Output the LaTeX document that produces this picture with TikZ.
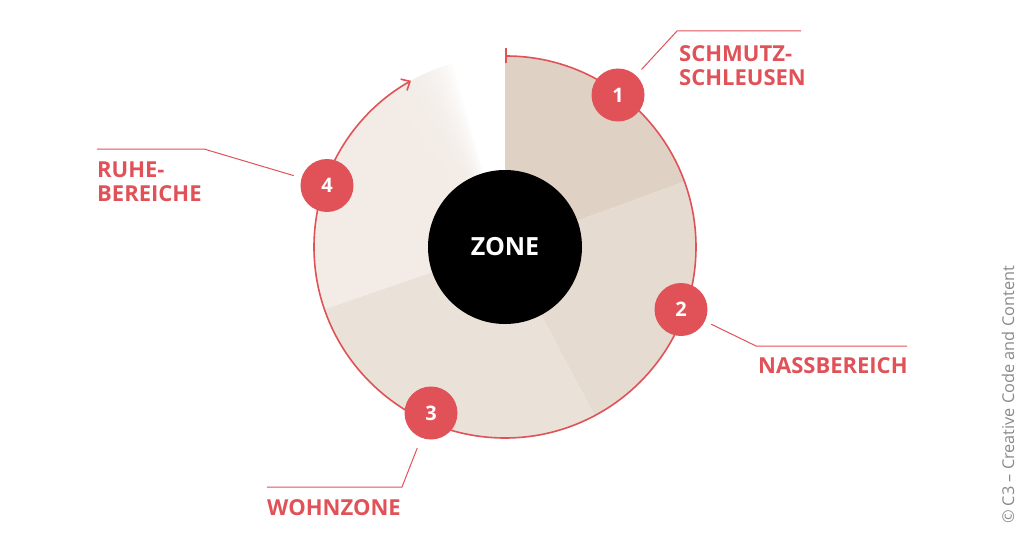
\documentclass[tikz,border=0pt]{standalone}
\usepackage{fontspec}
\setmainfont{Open Sans}
\usetikzlibrary{arrows.meta}
\definecolor{zred}{RGB}{224,82,88}
\definecolor{sone}{RGB}{223,210,196}
\definecolor{stwo}{RGB}{229,219,209}
\definecolor{sthree}{RGB}{234,225,216}
\definecolor{sfour}{RGB}{242,235,230}
\definecolor{cgray}{RGB}{138,138,138}

\begin{document}
\begin{tikzpicture}[x=1pt, y=1pt,
        badge/.style={circle, fill=zred, minimum size=53pt, inner sep=0pt, text=white, font=\bfseries\fontsize{20}{20}\selectfont},
        zlabel/.style={text=zred, inner sep=0pt, align=left, font=\bfseries\fontsize{22}{23.5}\selectfont},
        leader/.style={zred, line width=1pt}]
        \useasboundingbox ( -505, -302 ) rectangle ( 519, 247 );

        % sectors
        \fill [sone] ( 0, 0 ) -- ( 90:191 ) arc ( 90:20:191 ) -- cycle;
        \fill [stwo] ( 0, 0 ) -- ( 20:191 ) arc ( 20:-62:191 ) -- cycle;
        \fill [sthree] ( 0, 0 ) -- ( -62:191 ) arc ( -62:-161:191 ) -- cycle;
        \fill [sfour] ( 0, 0 ) -- ( 199:191 ) arc ( 199:128:191 ) -- cycle;
        % fade of sector 4
        \foreach \a in {1,...,22}
            \fill [sfour, fill opacity=0.14] ( 0, 0 ) -- ( 128.5:191 ) arc ( 128.5:128-\a:191 ) -- cycle;

        % ring
        \draw [zred, line width=1.6pt, {Bar[width=15pt]}-{Straight Barb[length=7pt, width=13pt]}] ( 90:191 ) arc ( 90:-240.5:191 );

        % zone
        \node [circle, fill=black, minimum size=154pt, inner sep=0pt, text=white, font=\bfseries\fontsize{25}{25}\selectfont] (zone) at ( 0, 0 ) {ZONE};

        % badges
        \node [badge] (b1) at ( 113, 152 ) {1};
        \node [badge] (b2) at ( 176, -62.5 ) {2};
        \node [badge] (b3) at ( -74, -166 ) {3};
        \node [badge] (b4) at ( -178, 61.5 ) {4};

        % leaders
        \coordinate (k1) at ( 172, 216 );
        \coordinate (e1) at ( 296, 216 );
        \coordinate (k2) at ( 251, -99 );
        \coordinate (e2) at ( 402, -99 );
        \coordinate (k3) at ( -103, -240 );
        \coordinate (e3) at ( -238, -240 );
        \coordinate (k4) at ( -301, 98 );
        \coordinate (e4) at ( -408, 98 );
        \draw [leader, shorten <=8pt] (b1) -- (k1) -- (e1);
        \draw [leader, shorten <=7pt] (b2) -- (k2) -- (e2);
        \draw [leader, shorten <=11pt] (b3) -- (k3) -- (e3);
        \draw [leader, shorten <=8pt] (b4) -- (k4) -- (e4);

        % labels
        \node [zlabel, anchor=north west] (l1) at ( 174, 201.5 ) {SCHMUTZ-\\SCHLEUSEN};
        \node [zlabel, anchor=base west] (l2) at ( 253, -126 ) {NASSBEREICH};
        \node [zlabel, anchor=base west] (l3) at ( -238, -268 ) {WOHNZONE};
        \node [zlabel, anchor=north west] (l4) at ( -408, 85 ) {RUHE-\\BEREICHE};

        % copyright
        \node [rotate=90, text=cgray, font=\fontsize{16.3}{16.3}\selectfont] (copy) at ( 503, -148 ) {© C3 – Creative Code and Content};
    \end{tikzpicture}
\end{document}
